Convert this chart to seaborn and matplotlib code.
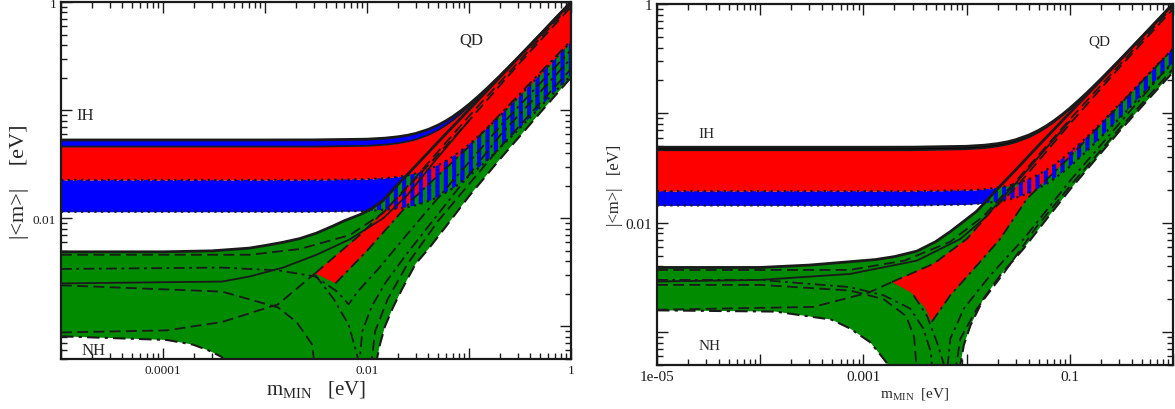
import numpy as np
import matplotlib.pyplot as plt
import matplotlib.ticker as mticker
import seaborn as sns

sns.set_theme(style="ticks")
plt.rcParams['font.family'] = ['Liberation Serif', 'DejaVu Serif']
plt.rcParams['mathtext.fontset'] = 'custom'
plt.rcParams['mathtext.rm'] = 'Liberation Serif'
plt.rcParams['hatch.linewidth'] = 3.0
plt.rcParams['hatch.color'] = '#0000ff'

RED = '#ff0000'
BLUE = '#0000ff'
GREEN = '#008b00'

# lightest mass grid (eV) used by the inverted-hierarchy bands
M = [1e-5, 1e-4, 1e-3, 3e-3, 0.01, 0.015, 0.02, 0.025, 0.03, 0.04, 0.05, 0.06, 0.07, 0.085,
     0.1, 0.125, 0.15, 0.2, 0.3, 0.5, 0.7, 1.0]

# ---------------- left panel ----------------
L_IH1 = [0.053, 0.053, 0.053, 0.0531, 0.0539, 0.0551, 0.0567, 0.0586, 0.0609, 0.0664, 0.0729,
         0.0801, 0.0878, 0.1002, 0.1132, 0.1358, 0.1591, 0.2069, 0.3046, 0.5028, 0.702, 1.0]
L_IH2 = [0.046, 0.046, 0.046, 0.046, 0.0468, 0.0479, 0.0494, 0.0513, 0.0535, 0.059, 0.0655,
         0.073, 0.081, 0.0945, 0.108, 0.132, 0.157, 0.205, 0.303, 0.502, 0.701, 1.0]
L_IH3 = [0.0226, 0.0226, 0.0226, 0.0226, 0.0230, 0.0235, 0.0242, 0.025, 0.026, 0.0283, 0.031,
         0.0341, 0.0374, 0.0427, 0.0482, 0.0579, 0.0678, 0.0882, 0.13, 0.214, 0.299, 0.43]
L_IH4 = [0.0115, 0.0115, 0.0115, 0.0115, 0.0117, 0.0120, 0.0123, 0.0127, 0.0132, 0.0144, 0.0158,
         0.0174, 0.019, 0.0217, 0.0245, 0.0294, 0.0343, 0.0445, 0.065, 0.107, 0.149, 0.21]

L_NHT_M = [1e-5, 1e-4, 3e-4, 7e-4, 1e-3, 1.5e-3, 2.2e-3, 3.2e-3, 4.65e-3, 6e-3, 8.5e-3, 0.011,
           0.0144, 0.02, 0.03, 0.05, 0.1, 0.2, 0.5, 1.0]
L_NHT_Y = [0.0049, 0.0049, 0.0050, 0.0053, 0.0056, 0.0060, 0.0065, 0.0073, 0.0085, 0.0095, 0.0108,
           0.0122, 0.0146, 0.0205, 0.0305, 0.051, 0.101, 0.201, 0.50, 1.0]
L_NHB1_M = [1e-5, 1.09e-4, 1.96e-4, 2.8e-4, 3.8e-4, 6e-4]
L_NHB1_Y = [0.00081, 0.00075, 0.00068, 0.0006, 0.00052, 0.0002]
L_NHB2_M = [0.0118, 0.0125, 0.0135, 0.015, 0.018, 0.022, 0.03, 0.04, 0.06, 0.1, 0.2, 0.5, 1.0]
L_NHB2_Y = [0.0002, 0.0005, 0.0007, 0.001, 0.0015, 0.0022, 0.0038, 0.0052, 0.0085, 0.016, 0.035, 0.095, 0.2]

L_RNU_M = [3.1e-3, 8.5e-3, 0.0211, 0.05, 0.1, 0.3, 1.0]
L_RNU_Y = [0.0031, 0.0070, 0.0163, 0.039, 0.08, 0.26, 0.9]
L_RNL_M = [4.9e-3, 0.01, 0.028, 0.1, 0.3, 1.0]
L_RNL_Y = [0.0025, 0.0050, 0.0150, 0.046, 0.135, 0.44]
L_RNE_M = [3.1e-3, 4.9e-3]
L_RNE_Y = [0.0031, 0.0025]

L_D1_M = [1e-5, 7.1e-4, 2.2e-3, 6.8e-3, 0.0144, 0.03, 0.1, 1.0]
L_D1_Y = [0.0046, 0.0046, 0.0052, 0.0070, 0.0112, 0.024, 0.088, 0.95]
L_S2_M = [1e-5, 3.8e-4, 7.1e-4, 1.5e-3, 3.2e-3, 6.8e-3, 0.0144, 0.025, 0.05, 0.1]
L_S2_Y = [0.0025, 0.0026, 0.0029, 0.0035, 0.0046, 0.0064, 0.010, 0.0165, 0.037, 0.08]
L_DD2_M = [1e-5, 3.8e-4, 1.34e-3, 3.1e-3, 5.1e-3, 6.6e-3, 8.1e-3, 0.0129, 0.025, 0.06, 0.2, 1.0]
L_DD2_Y = [0.0034, 0.0035, 0.0033, 0.0029, 0.0021, 0.0016, 0.0021, 0.0034, 0.0072, 0.019, 0.07, 0.36]
L_D3_M = [1e-5, 3.8e-4, 1.34e-3, 2.04e-3, 2.9e-3, 3.2e-3]
L_D3_Y = [0.0024, 0.0021, 0.0015, 0.0011, 0.00068, 0.0003]
L_D4_M = [1e-5, 1.09e-4, 3.8e-4, 1.34e-3, 3.1e-3]
L_D4_Y = [0.00088, 0.00092, 0.0011, 0.0016, 0.0031]
L_DD5_M = [3.1e-3, 4.7e-3, 6.6e-3, 8.1e-3, 8.6e-3]
L_DD5_Y = [0.0030, 0.0018, 0.00104, 0.00052, 0.0003]
L_DD6_M = [8.3e-3, 9.0e-3, 0.011, 0.015, 0.025, 0.05, 0.2, 1.0]
L_DD6_Y = [0.0004, 0.0009, 0.0015, 0.0025, 0.0048, 0.011, 0.058, 0.30]
L_D7_M = [0.0105, 0.012, 0.016, 0.025, 0.05, 0.2, 1.0]
L_D7_Y = [0.0003, 0.0009, 0.0018, 0.0038, 0.0095, 0.045, 0.24]

# ---------------- right panel ----------------
R_IH1 = [0.049, 0.049, 0.049, 0.0491, 0.0500, 0.0512, 0.0529, 0.055, 0.0575, 0.0633, 0.070,
         0.0775, 0.0855, 0.0981, 0.1114, 0.1343, 0.1578, 0.2059, 0.304, 0.5024, 0.7017, 1.0]
R_IH2 = [0.046, 0.046, 0.046, 0.046, 0.047, 0.0482, 0.0499, 0.052, 0.0545, 0.0603, 0.0672,
         0.0748, 0.083, 0.0958, 0.109, 0.132, 0.156, 0.205, 0.303, 0.502, 0.701, 1.0]
R_IH3 = [0.0194, 0.0194, 0.0194, 0.0194, 0.0198, 0.0202, 0.0209, 0.0217, 0.0227, 0.025, 0.0277,
         0.0306, 0.0338, 0.0388, 0.044, 0.053, 0.0623, 0.0813, 0.12, 0.198, 0.277, 0.39]
R_IH4 = [0.0144, 0.0144, 0.0144, 0.0144, 0.0147, 0.0151, 0.0156, 0.0162, 0.0169, 0.0186, 0.0206,
         0.0228, 0.0251, 0.0288, 0.0327, 0.0395, 0.0464, 0.0605, 0.089, 0.148, 0.206, 0.29]

R_NHT_M = [1e-5, 1e-4, 3e-4, 7.4e-4, 1.3e-3, 2e-3, 3.3e-3, 5e-3, 6.95e-3, 9.5e-3, 0.0126, 0.02,
           0.03, 0.05, 0.1, 0.3, 1.0]
R_NHT_Y = [0.0039, 0.0039, 0.0041, 0.0044, 0.0046, 0.0049, 0.0055, 0.0067, 0.0083, 0.0104, 0.0128,
           0.0205, 0.0305, 0.051, 0.101, 0.30, 1.0]
R_NHB1_M = [1e-5, 1.4e-4, 4.9e-4, 7.4e-4, 1.16e-3, 1.57e-3, 1.74e-3, 1.9e-3]
R_NHB1_Y = [0.00158, 0.00154, 0.0013, 0.00108, 0.00081, 0.00057, 0.0005, 0.0003]
R_NHB2_M = [8.4e-3, 8.7e-3, 9.4e-3, 0.0109, 0.0146, 0.0212, 0.0357, 0.06, 0.1, 0.3, 1.0]
R_NHB2_Y = [0.0003, 0.0005, 0.00076, 0.00115, 0.00202, 0.0033, 0.0058, 0.0109, 0.020, 0.068, 0.238]

R_RNU_M = [1.89e-3, 4.8e-3, 0.0101, 0.017, 0.03, 0.05, 0.1, 0.3, 1.0]
R_RNU_Y = [0.00287, 0.00422, 0.00714, 0.0125, 0.021, 0.037, 0.08, 0.26, 0.9]
R_RNL_M = [4.6e-3, 6.95e-3, 0.0126, 0.0212, 0.0385, 0.1, 0.3, 1.0]
R_RNL_Y = [0.00124, 0.00217, 0.00407, 0.00714, 0.0166, 0.040, 0.118, 0.39]
R_RNE_M = [1.89e-3, 2.9e-3, 3.9e-3, 4.6e-3]
R_RNE_Y = [0.00287, 0.0023, 0.0017, 0.00124]

R_D1_M = [1e-5, 7.4e-4, 2.5e-3, 6.95e-3, 0.0146, 0.03, 0.1, 1.0]
R_D1_Y = [0.0037, 0.0037, 0.0045, 0.0067, 0.0115, 0.024, 0.088, 0.95]
R_S2_M = [1e-5, 1e-4, 7.4e-4, 3.3e-3, 8.7e-3, 0.0146, 0.03, 0.1]
R_S2_Y = [0.0029, 0.0030, 0.0034, 0.0045, 0.0071, 0.0108, 0.023, 0.085]
R_DD2_M = [1e-5, 1e-4, 7.4e-4, 1.57e-3, 2.84e-3, 3.8e-3, 4.5e-3, 4.8e-3]
R_DD2_Y = [0.0030, 0.0030, 0.00258, 0.00217, 0.00164, 0.00108, 0.00066, 0.0003]
R_D3_M = [1e-5, 1e-4, 7.4e-4, 1.57e-3, 2.6e-3, 3.1e-3, 3.4e-3]
R_D3_Y = [0.0027, 0.0027, 0.0024, 0.0020, 0.0014, 0.0009, 0.0003]
R_D4_M = [1e-5, 3.3e-4, 1.13e-3, 1.89e-3]
R_D4_Y = [0.0016, 0.0017, 0.0023, 0.00287]
R_DD5_M = [3.06e-3, 4.13e-3, 5.2e-3, 6.05e-3, 6.4e-3]
R_DD5_Y = [0.00217, 0.00141, 0.00079, 0.0005, 0.0003]
R_DD6_M = [6.2e-3, 6.95e-3, 9.4e-3, 0.017, 0.0357, 0.1, 1.0]
R_DD6_Y = [0.0003, 0.00087, 0.00164, 0.00332, 0.0071, 0.024, 0.30]
R_D7_M = [7.3e-3, 8.7e-3, 0.0126, 0.0229, 0.0477, 0.1, 0.3, 1.0]
R_D7_Y = [0.0003, 0.00087, 0.00164, 0.00345, 0.0092, 0.0215, 0.072, 0.255]

MAJ = [1e-5, 1e-4, 1e-3, 1e-2, 1e-1, 1.0]
L_XLAB = ['', '0.0001', '', '0.01', '', '1']
R_XLAB = ['1e-05', '', '0.001', '', '0.1', '']
YMAJ = [1e-3, 1e-2, 1e-1, 1.0]
YLAB = ['', '0.01', '', '1']

DASH = (0, (6, 3))
DASHDOT = (0, (6, 2.5, 1.5, 2.5))
DOT = (0, (1, 2))


def cat(*parts):
    return np.concatenate([np.asarray(p, float) for p in parts])


def draw(ax, ih, nht, nhb1, nhb2, rnu, rnl, rne, lines, band_col):
    ih1, ih2, ih3, ih4 = ih
    # solid blue IH band first, NH regions painted over it
    ax.fill_between(M, ih4, ih3, color=BLUE, lw=0, zorder=1)
    gx = cat(nht[0], nhb2[0][::-1], nhb1[0][::-1])
    gy = cat(nht[1], nhb2[1][::-1], nhb1[1][::-1])
    ax.fill(gx, gy, color=GREEN, lw=0, zorder=2)
    rx = cat(rnu[0], rnl[0][::-1], rne[0][::-1])
    ry = cat(rnu[1], rnl[1][::-1], rne[1][::-1])
    ax.fill(rx, ry, color=RED, lw=0, zorder=3)
    ax.fill_between(M, ih3, ih2, color=RED, lw=0, zorder=4)
    ax.fill_between(M, ih2, ih1, color=band_col, lw=0, zorder=4)
    # striped overlap of the blue band
    ax.fill_between(M, ih4, ih3, facecolor='none', edgecolor=BLUE, hatch='||', lw=0, zorder=5)

    ax.plot(M, ih1, color='k', lw=2.0, zorder=7)
    ax.plot(M, ih2, color='k', lw=1.3, zorder=7)
    ax.plot(M, ih3, color='k', lw=1.6, ls=DOT, zorder=7)
    ax.plot(M, ih4, color='k', lw=1.6, ls=DOT, zorder=7)
    ax.plot(nht[0], nht[1], color='k', lw=2.0, zorder=7)
    ax.plot(nhb1[0], nhb1[1], color='k', lw=1.5, ls=DASHDOT, zorder=7)
    ax.plot(nhb2[0], nhb2[1], color='k', lw=1.5, ls=DASH, zorder=7)
    ax.plot(rnu[0], rnu[1], color='k', lw=1.3, ls=DASH, zorder=7)
    ax.plot(rnl[0], rnl[1], color='k', lw=1.3, ls=DASHDOT, zorder=7)
    for mx, my, ls in lines:
        ax.plot(mx, my, color='k', lw=1.3, ls=ls, zorder=6)


def style(ax, xlab, fs_tick):
    ax.set_xscale('log')
    ax.set_yscale('log')
    ax.set_xlim(1e-5, 1)
    ax.set_ylim(5e-4, 1)
    ax.xaxis.set_major_locator(mticker.FixedLocator(MAJ))
    ax.xaxis.set_major_formatter(mticker.FixedFormatter(xlab))
    ax.yaxis.set_major_locator(mticker.FixedLocator(YMAJ))
    ax.yaxis.set_major_formatter(mticker.FixedFormatter(YLAB))
    for a in (ax.xaxis, ax.yaxis):
        a.set_minor_locator(mticker.LogLocator(base=10, subs=np.arange(2, 10), numticks=20))
        a.set_minor_formatter(mticker.NullFormatter())
    ax.tick_params(which='both', direction='in', top=True, right=True, width=1.0,
                   labelsize=fs_tick, colors='k')
    ax.tick_params(which='major', length=8)
    ax.tick_params(which='minor', length=4)
    for s in ax.spines.values():
        s.set_linewidth(1.6)
        s.set_color('k')
        s.set_zorder(10)
    ax.set_facecolor('white')


fig = plt.figure(figsize=(11.75, 4.1), dpi=100)
axl = fig.add_axes([61 / 1175, 50 / 410, 510 / 1175, 357 / 410])
axr = fig.add_axes([657 / 1175, 44 / 410, 516 / 1175, 361 / 410])

draw(axl, (L_IH1, L_IH2, L_IH3, L_IH4), (L_NHT_M, L_NHT_Y), (L_NHB1_M, L_NHB1_Y),
     (L_NHB2_M, L_NHB2_Y), (L_RNU_M, L_RNU_Y), (L_RNL_M, L_RNL_Y), (L_RNE_M, L_RNE_Y),
     [(L_D1_M, L_D1_Y, DASH), (L_S2_M, L_S2_Y, '-'), (L_DD2_M, L_DD2_Y, DASHDOT),
      (L_D3_M, L_D3_Y, DASH), (L_D4_M, L_D4_Y, DASH), (L_DD5_M, L_DD5_Y, DASHDOT),
      (L_DD6_M, L_DD6_Y, DASHDOT), (L_D7_M, L_D7_Y, DASH)], BLUE)
draw(axr, (R_IH1, R_IH2, R_IH3, R_IH4), (R_NHT_M, R_NHT_Y), (R_NHB1_M, R_NHB1_Y),
     (R_NHB2_M, R_NHB2_Y), (R_RNU_M, R_RNU_Y), (R_RNL_M, R_RNL_Y), (R_RNE_M, R_RNE_Y),
     [(R_D1_M, R_D1_Y, DASH), (R_S2_M, R_S2_Y, '-'), (R_DD2_M, R_DD2_Y, DASHDOT),
      (R_D3_M, R_D3_Y, DASH), (R_D4_M, R_D4_Y, DASH), (R_DD5_M, R_DD5_Y, DASHDOT),
      (R_DD6_M, R_DD6_Y, DASHDOT), (R_D7_M, R_D7_Y, DASH)], 'black')

style(axl, L_XLAB, 9.5)
style(axr, R_XLAB, 11)

axl.set_xlabel(r'm$_{\rm MIN}$   [eV]', fontsize=15, labelpad=2)
axl.set_ylabel('|<m>|    [eV]', fontsize=16, labelpad=3)
axr.set_xlabel(r'm$_{\rm MIN}$  [eV]', fontsize=11, labelpad=2)
axr.set_ylabel('|<m>|   [eV]', fontsize=12, labelpad=2)

axl.text(1.4e-5, 0.09, 'IH', fontsize=12, va='center', ha='left', zorder=12)
axl.text(0.081, 0.45, 'QD', fontsize=12, va='center', ha='left', zorder=12)
axl.text(1.6e-5, 6.1e-4, 'NH', fontsize=12, va='center', ha='left', zorder=12)
axr.text(2.5e-5, 0.066, 'IH', fontsize=11, va='center', ha='left', zorder=12)
axr.text(0.151, 0.46, 'QD', fontsize=11, va='center', ha='left', zorder=12)
axr.text(2.5e-5, 7.6e-4, 'NH', fontsize=11, va='center', ha='left', zorder=12)

fig.savefig('out.png', dpi=100, facecolor='white')
